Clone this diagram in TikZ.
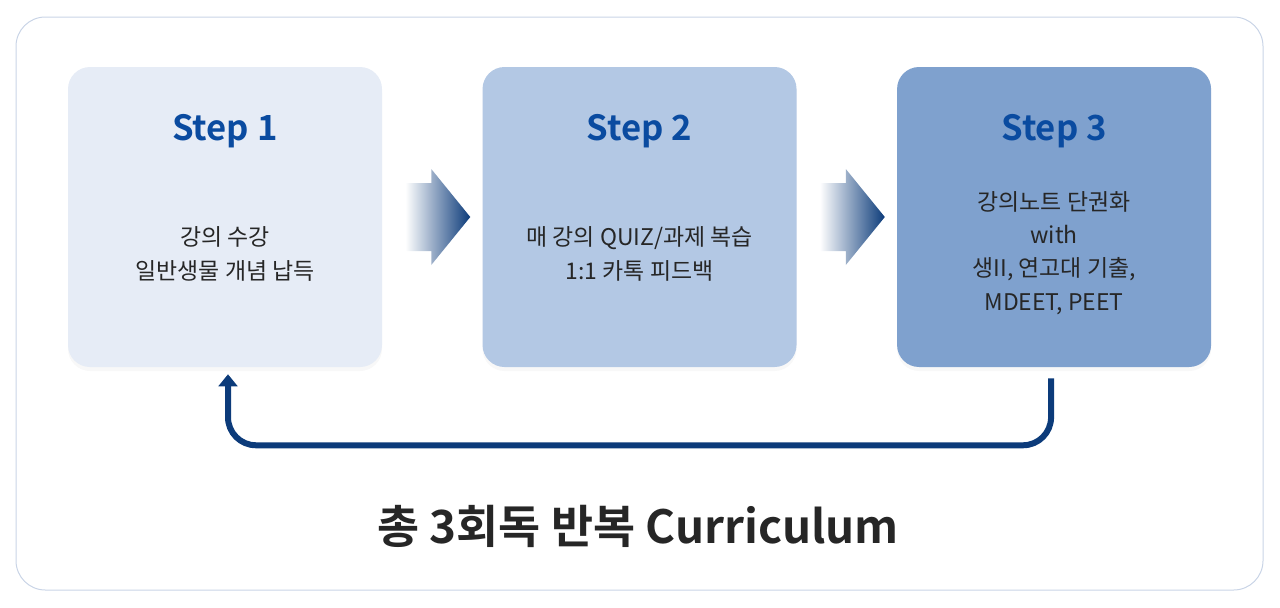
\documentclass[tikz,border=0pt]{standalone}
\usepackage{fontspec}
\setmainfont{Noto Sans CJK KR}[BoldFont={Noto Sans CJK KR Bold}]
\usetikzlibrary{positioning}
\usetikzlibrary{calc}
\usetikzlibrary{arrows.meta}
\usetikzlibrary{shadows}

\definecolor{paleblue}{HTML}{E6ECF6}
\definecolor{midblue}{HTML}{B3C8E4}
\definecolor{deepblue}{HTML}{7FA1CE}
\definecolor{titleblue}{HTML}{0A4BA0}
\definecolor{navy}{HTML}{0C3B7A}
\definecolor{bodygray}{HTML}{262626}
\definecolor{framegray}{HTML}{C9D4E6}

\begin{document}
\begin{tikzpicture}
[x=0.75pt,y=-0.75pt,%
  every node/.style={inner sep=0pt},
  stepbox/.style={rectangle,rounded corners=16.5pt,minimum width=235.5pt,minimum height=225pt,
    drop shadow={opacity=0.06,shadow xshift=0pt,shadow yshift=-3pt}},
  steptitle/.style={font=\fontsize{26}{30}\selectfont\bfseries,text=titleblue},
  stepbody/.style={align=center,font=\fontsize{17.2}{25}\selectfont,text=bodygray},
  chevron/.style={left color=white,right color=navy},
  feedback/.style={draw=navy,line width=4.5pt,rounded corners=21pt,-{Triangle[width=14pt,length=9pt]}},
  frame/.style={draw=framegray,line width=0.75pt,rounded corners=22pt}]
\useasboundingbox (0,0) rectangle (1280,607);
\draw[frame] (16,17) rectangle (1263,590);
% the three steps
\node[stepbox,fill=paleblue] (step1) at (225,217) {};
\node[stepbox,fill=midblue,right=75pt of step1] (step2) {};
\node[stepbox,fill=deepblue,right=75pt of step2] (step3) {};
\node[steptitle] (title1) at ($(step1.north)+(0,64)$) {Step 1};
\node[steptitle] (title2) at ($(step2.north)+(0,64)$) {Step 2};
\node[steptitle] (title3) at ($(step3.north)+(0,64)$) {Step 3};
\node[stepbody] (body1) at ($(step1.center)+(0,37)$) {강의 수강\\일반생물 개념 납득};
\node[stepbody] (body2) at ($(step2.center)+(0,37)$) {매 강의 QUIZ/과제 복습\\1:1 카톡 피드백};
\node[stepbody] (body3) at ($(step3.center)+(0,36)$) {강의노트 단권화\\with\\생II, 연고대 기출,\\MDEET, PEET};
% arrows between steps
\foreach \a/\b in {step1/step2,step2/step3}
  \shade[chevron] ($(\a.east)+(23,-34)$) -- ++(26,0) -- ++(0,-14) -- ++(39,48)
    -- ++(-39,48) -- ++(0,-14) -- ++(-26,0) -- cycle;
% back to the start
\draw[feedback] ($(step3.south)+(-3,11)$) -- ++(0,67) -| ($(step1.south)+(3,7)$);
\node[font=\fontsize{34.3}{40}\selectfont\bfseries,text=bodygray] (motto) at (638,526) {총 3회독 반복 Curriculum};
\end{tikzpicture}
\end{document}
